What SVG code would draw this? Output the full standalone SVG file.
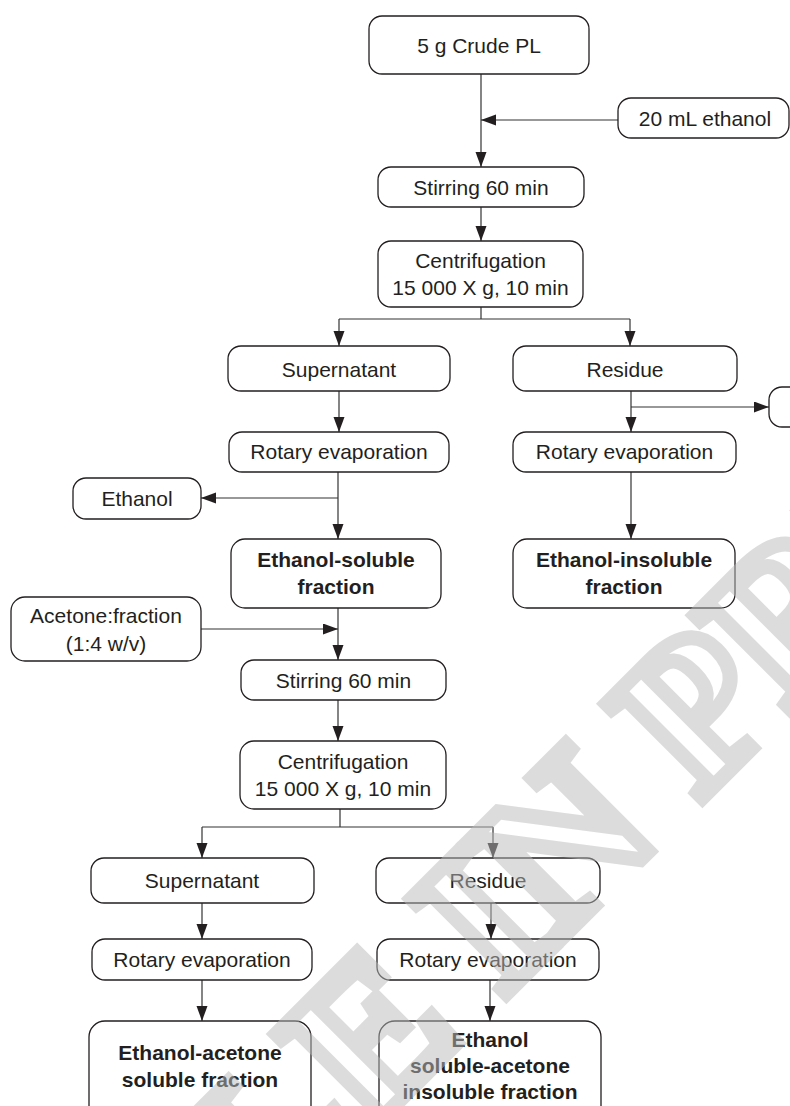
<svg xmlns="http://www.w3.org/2000/svg" width="790" height="1106" viewBox="0 0 790 1106">
<style>
.box{fill:#fff;stroke:#231f20;stroke-width:1.3}
.t{font-family:"Liberation Sans",Arial,sans-serif;font-size:21px;fill:#231f20;text-anchor:middle}
.b{font-weight:bold}
.c{fill:none;stroke:#333;stroke-width:1.2}
.a{marker-end:url(#ah)}
.wm{font-family:"Liberation Serif","Times New Roman",serif;font-weight:bold;font-size:205px;fill:none;stroke:#bababa;stroke-width:15;stroke-linejoin:miter;opacity:0.5;text-anchor:middle}
</style>
<defs>
<marker id="ah" markerUnits="userSpaceOnUse" markerWidth="16" markerHeight="12" refX="15" refY="5.5" orient="auto">
<path d="M0,0 L15,5.5 L0,11 z" fill="#231f20"/>
</marker>
</defs>
<rect width="790" height="1106" fill="#fff"/>
<g id="connectors">
<path class="c a" d="M481,74 V167"/>
<path class="c a" d="M618,120 H481"/>
<path class="c a" d="M481,207 V241"/>
<path class="c" d="M481,307 V319 M339,319 H630"/>
<path class="c a" d="M339,319 V346"/>
<path class="c a" d="M630,319 V346"/>
<path class="c a" d="M339,391 V432"/>
<path class="c a" d="M631,391 V432"/>
<path class="c a" d="M631,407 H769"/>
<path class="c a" d="M338,472 V539"/>
<path class="c a" d="M338,498 H201"/>
<path class="c a" d="M631,472 V539"/>
<path class="c a" d="M338,608 V660"/>
<path class="c a" d="M201,629 H338"/>
<path class="c a" d="M338,700 V741"/>
<path class="c" d="M340,809 V827 M202,827 H493"/>
<path class="c a" d="M202,827 V858"/>
<path class="c a" d="M493,827 V858"/>
<path class="c a" d="M202,903 V939"/>
<path class="c a" d="M491,903 V939"/>
<path class="c a" d="M202,980 V1021"/>
<path class="c a" d="M490,980 V1021"/>
</g>
<g id="n1"><rect class="box" x="369" y="16" width="220" height="58" rx="13"/><text class="t" x="479" y="53">5 g Crude PL</text></g>
<g id="n2"><rect class="box" x="618" y="98" width="171" height="40" rx="13"/><text class="t" x="705" y="126">20 mL ethanol</text></g>
<g id="n3"><rect class="box" x="378" y="167" width="206" height="40" rx="13"/><text class="t" x="481" y="195">Stirring 60 min</text></g>
<g id="n4"><rect class="box" x="378" y="241" width="205" height="66" rx="13"/><text class="t" x="480.5" y="268">Centrifugation</text><text class="t" x="480.5" y="295">15 000 X g, 10 min</text></g>
<g id="n5"><rect class="box" x="228" y="346" width="222" height="45" rx="13"/><text class="t" x="339" y="377">Supernatant</text></g>
<g id="n6"><rect class="box" x="513" y="346" width="224" height="45" rx="13"/><text class="t" x="625" y="377">Residue</text></g>
<g id="n7"><rect class="box" x="229" y="432" width="220" height="40" rx="13"/><text class="t" x="339" y="459">Rotary evaporation</text></g>
<g id="n8"><rect class="box" x="513" y="432" width="223" height="40" rx="13"/><text class="t" x="624.5" y="459">Rotary evaporation</text></g>
<g id="n9"><rect class="box" x="769" y="387" width="60" height="40" rx="13"/></g>
<g id="n10"><rect class="box" x="73" y="478" width="128" height="41" rx="13"/><text class="t" x="137" y="506">Ethanol</text></g>
<g id="n11"><rect class="box" x="231" y="539" width="210" height="69" rx="14"/><text class="t b" x="336" y="567">Ethanol-soluble</text><text class="t b" x="336" y="594">fraction</text></g>
<g id="n12"><rect class="box" x="513" y="539" width="222" height="69" rx="14"/><text class="t b" x="624" y="567">Ethanol-insoluble</text><text class="t b" x="624" y="594">fraction</text></g>
<g id="n13"><rect class="box" x="11" y="597" width="190" height="64" rx="14"/><text class="t" x="106" y="623">Acetone:fraction</text><text class="t" x="106" y="651">(1:4 w/v)</text></g>
<g id="n14"><rect class="box" x="241" y="660" width="205" height="40" rx="13"/><text class="t" x="343.5" y="688">Stirring 60 min</text></g>
<g id="n15"><rect class="box" x="240" y="741" width="206" height="68" rx="14"/><text class="t" x="343" y="769">Centrifugation</text><text class="t" x="343" y="796">15 000 X g, 10 min</text></g>
<g id="n16"><rect class="box" x="91" y="858" width="223" height="45" rx="13"/><text class="t" x="202" y="888">Supernatant</text></g>
<g id="n17"><rect class="box" x="376" y="858" width="224" height="45" rx="13"/><text class="t" x="488" y="888">Residue</text></g>
<g id="n18"><rect class="box" x="92" y="939" width="220" height="41" rx="13"/><text class="t" x="202" y="967">Rotary evaporation</text></g>
<g id="n19"><rect class="box" x="377" y="939" width="222" height="41" rx="13"/><text class="t" x="488" y="967">Rotary evaporation</text></g>
<g id="n20"><rect class="box" x="89" y="1021" width="222" height="110" rx="16"/><text class="t b" x="200" y="1060">Ethanol-acetone</text><text class="t b" x="200" y="1087">soluble fraction</text></g>
<g id="n21"><rect class="box" x="379" y="1021" width="222" height="110" rx="16"/><text class="t b" x="490" y="1047">Ethanol</text><text class="t b" x="490" y="1073">soluble-acetone</text><text class="t b" x="490" y="1099">insoluble fraction</text></g>
<text class="wm" transform="translate(480,1020) rotate(-45)">ARTICLE IN PRESS</text>
</svg>
